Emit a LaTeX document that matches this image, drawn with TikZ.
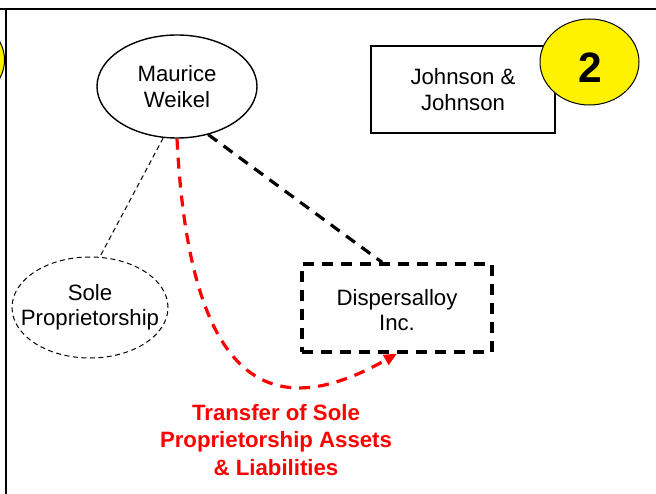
\documentclass[tikz,border=0pt]{standalone}
\usepackage{fontspec}
\setmainfont{Liberation Sans}
\usetikzlibrary{shapes.geometric,arrows.meta}
\begin{document}
\begin{tikzpicture}[x=1pt,y=-1pt,
  lbl/.style={font=\fontsize{22.2}{25.5}\selectfont, align=center, text=black},
  ell/.style={ellipse, inner sep=0pt, fill=white},
  thindash/.style={dash pattern=on 5pt off 3.5pt, line width=1pt},
  thickdash/.style={dash pattern=on 11pt off 8pt, line width=3.2pt},
  badge/.style={ellipse, draw=black, line width=1pt, fill=yellow, inner sep=0pt,
    minimum width=99pt, minimum height=86pt},
  badgetxt/.style={font=\fontsize{42.5}{44}\selectfont\bfseries, inner sep=0pt},
  redlbl/.style={font=\fontsize{22.2}{27.5}\selectfont\bfseries, align=center, text=red}
]
\useasboundingbox[fill=white] (0,0) rectangle (656,494);
% frame
\draw[line width=2.5pt] (0,9) -- (656,9);
\node[badge] (y1) at (-45,60) {};
\draw[line width=2.2pt] (6,9) -- (6,494);
% nodes
\node[ell, draw=black, line width=1.4pt, minimum width=160pt, minimum height=103pt] (m) at (177,86.5) {};
\node[lbl] (mt) at (m.center) {Maurice\\Weikel};
\node[ell, draw=black, thindash, minimum width=156pt, minimum height=101pt] (s) at (90,307.5) {};
\node[lbl] (st) at (s.center) {Sole\\Proprietorship};
\node[rectangle, draw=black, thickdash, minimum width=190pt, minimum height=88pt, inner sep=0pt] (d) at (397,308) {};
\node[lbl] (dt) at ([yshift=-2pt]d.center) {Dispersalloy\\Inc.};
\node[rectangle, draw=black, line width=1.3pt, lbl, minimum width=184pt, minimum height=87pt, inner sep=0pt] (j) at (463,89.5) {Johnson \&\\Johnson};
\node[badge] (b) at (589.5,62) {};
\node[badgetxt] (bt) at (590,68) {2};
% connectors
\draw[black, thindash] (m.255) -- (s.79);
\draw[black, thickdash] (m.-57) -- (d.108);
\draw[red, thickdash, -{Triangle[length=13pt,width=11pt]}] (m.south) .. controls (190,400) and (280,420) .. (d.south);
\node[redlbl] (t) at (276,440) {Transfer of Sole\\Proprietorship Assets\\\& Liabilities};
\end{tikzpicture}
\end{document}
